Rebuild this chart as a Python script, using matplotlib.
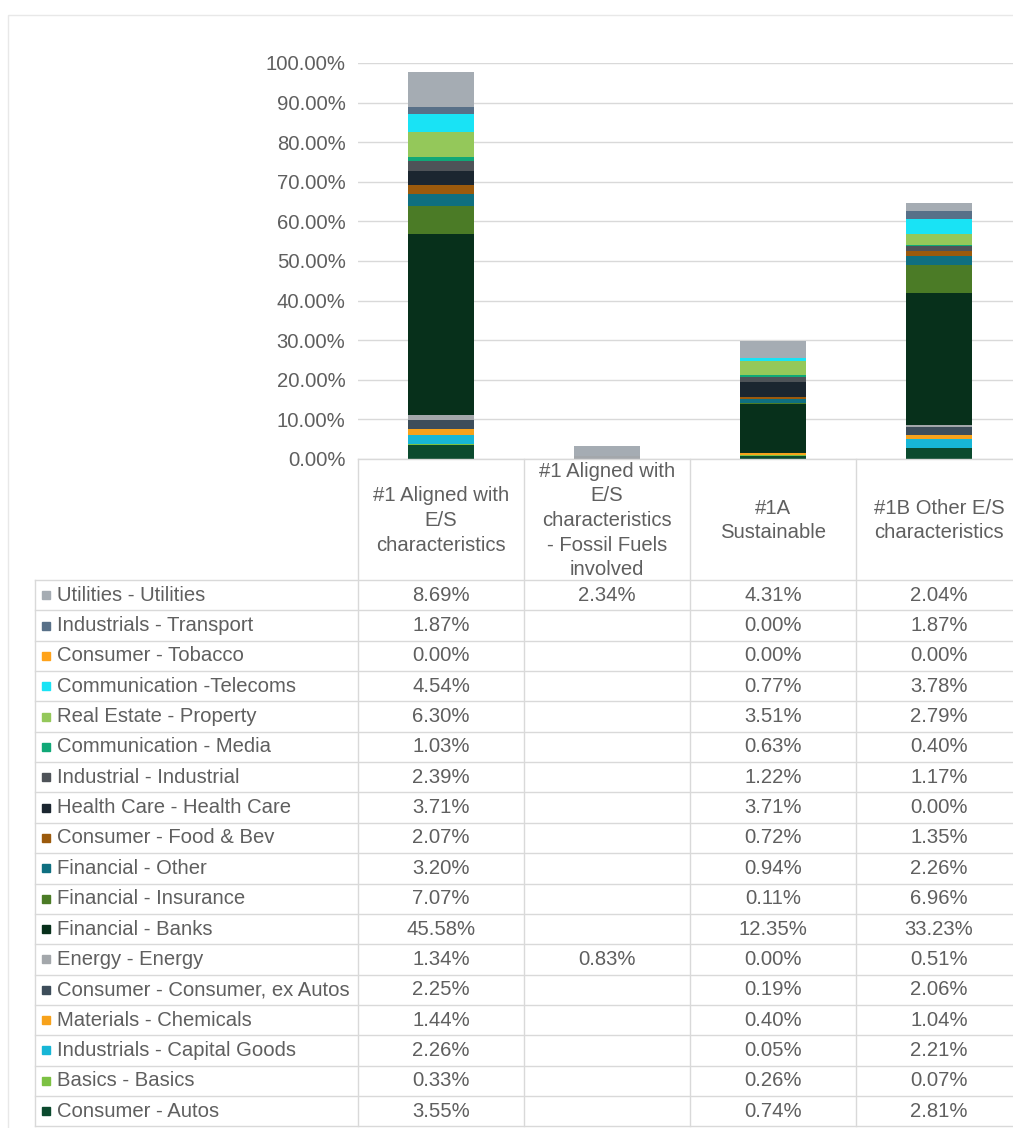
import matplotlib.pyplot as plt
import numpy as np
from matplotlib.patches import Rectangle

plt.rcParams["font.family"] = ["Liberation Sans", "DejaVu Sans"]

# table order (top row first), stacks are drawn in reverse
sectors = [
    "Utilities - Utilities",
    "Industrials - Transport",
    "Consumer - Tobacco",
    "Communication -Telecoms",
    "Real Estate - Property",
    "Communication - Media",
    "Industrial - Industrial",
    "Health Care - Health Care",
    "Consumer - Food & Bev",
    "Financial - Other",
    "Financial - Insurance",
    "Financial - Banks",
    "Energy - Energy",
    "Consumer - Consumer, ex Autos",
    "Materials - Chemicals",
    "Industrials - Capital Goods",
    "Basics - Basics",
    "Consumer - Autos",
]
colors = [
    "#a5acb3", "#587088", "#ffa31a", "#19e3f5", "#94c85a", "#10a877",
    "#4e5358", "#1b2630", "#9b5a0c", "#0f6f80", "#4b7b26", "#07301b",
    "#a3a7ab", "#3d4d5a", "#f7a21b", "#17b6d6", "#7cc143", "#0b4a2e",
]
categories = [
    "#1 Aligned with\nE/S\ncharacteristics",
    "#1 Aligned with\nE/S\ncharacteristics\n- Fossil Fuels\ninvolved",
    "#1A\nSustainable",
    "#1B Other E/S\ncharacteristics",
]
aligned = [8.69, 1.87, 0.00, 4.54, 6.30, 1.03, 2.39, 3.71, 2.07, 3.20, 7.07,
           45.58, 1.34, 2.25, 1.44, 2.26, 0.33, 3.55]
fossil = [2.34, None, None, None, None, None, None, None, None, None, None,
          None, 0.83, None, None, None, None, None]
sustainable = [4.31, 0.00, 0.00, 0.77, 3.51, 0.63, 1.22, 3.71, 0.72, 0.94, 0.11,
               12.35, 0.00, 0.19, 0.40, 0.05, 0.26, 0.74]
other_es = [2.04, 1.87, 0.00, 3.78, 2.79, 0.40, 1.17, 0.00, 1.35, 2.26, 6.96,
            33.23, 0.51, 2.06, 1.04, 2.21, 0.07, 2.81]
yticks = np.arange(0, 101, 10)

W, H = 1013, 1128
txt = "#5f5f5f"
grid = "#d9d9d9"
fs = 14.6

cols = [aligned, fossil, sustainable, other_es]
vals = np.array([[np.nan if v is None else v for v in c] for c in cols])

fig = plt.figure(figsize=(W / 100, H / 100), dpi=100)

# chart area
x0, colw = 358, 166
ybot, ytop = 459, 63
ax = fig.add_axes([x0 / W, (H - ybot) / H, 4 * colw / W, (ybot - ytop) / H])
x = np.arange(len(cols))
bottom = np.zeros(len(cols))
for i in range(len(sectors) - 1, -1, -1):
    h = np.nan_to_num(vals[:, i])
    ax.bar(x, h, 0.4, bottom=bottom, color=colors[i], zorder=3)
    bottom += h
ax.set_xlim(-0.5, len(cols) - 0.5)
ax.set_ylim(0, 100)
ax.set_yticks(yticks)
ax.set_yticklabels([f"{v:.2f}%" for v in yticks], color=txt, fontsize=fs)
ax.tick_params(axis="y", length=0, pad=9)
ax.set_xticks([])
ax.grid(axis="y", color=grid, lw=1, zorder=0)
for s in ax.spines.values():
    s.set_visible(False)

# data table drawn in pixel coordinates
tab = fig.add_axes([0, 0, 1, 1])
tab.set_xlim(0, W)
tab.set_ylim(H, 0)
tab.axis("off")
tab.add_patch(Rectangle((8, 15), W, H, fill=False, ec="#e8e8e8", lw=1))

left = 35
hdr_bot = 580
rowh = 30.35
nrows = len(sectors)
tab_bot = hdr_bot + nrows * rowh
edges = [x0 + colw * k for k in range(len(cols) + 1)]

# header
tab.plot([x0, W], [ybot, ybot], color=grid, lw=1)
for k, e in enumerate(edges[:-1]):
    tab.plot([e, e], [ybot, tab_bot], color=grid, lw=1)
for k, c in enumerate(categories):
    tab.text(x0 + colw * (k + 0.5), (ybot + hdr_bot) / 2 + 1, c, ha="center",
             va="center", color=txt, fontsize=fs, linespacing=1.38)

# rows
tab.plot([left, left], [hdr_bot, tab_bot], color=grid, lw=1)
for r in range(nrows + 1):
    y = hdr_bot + r * rowh
    tab.plot([left, W], [y, y], color=grid, lw=1)
for r, name in enumerate(sectors):
    yc = hdr_bot + (r + 0.5) * rowh
    tab.add_patch(Rectangle((42, yc - 4), 8, 8, color=colors[r]))
    tab.text(57, yc, name, ha="left", va="center", color=txt, fontsize=fs)
    for k in range(len(cols)):
        v = vals[k, r]
        if not np.isnan(v):
            tab.text(x0 + colw * (k + 0.5), yc, f"{v:.2f}%", ha="center",
                     va="center", color=txt, fontsize=fs)

fig.savefig("out.png", dpi=100, facecolor="white")
